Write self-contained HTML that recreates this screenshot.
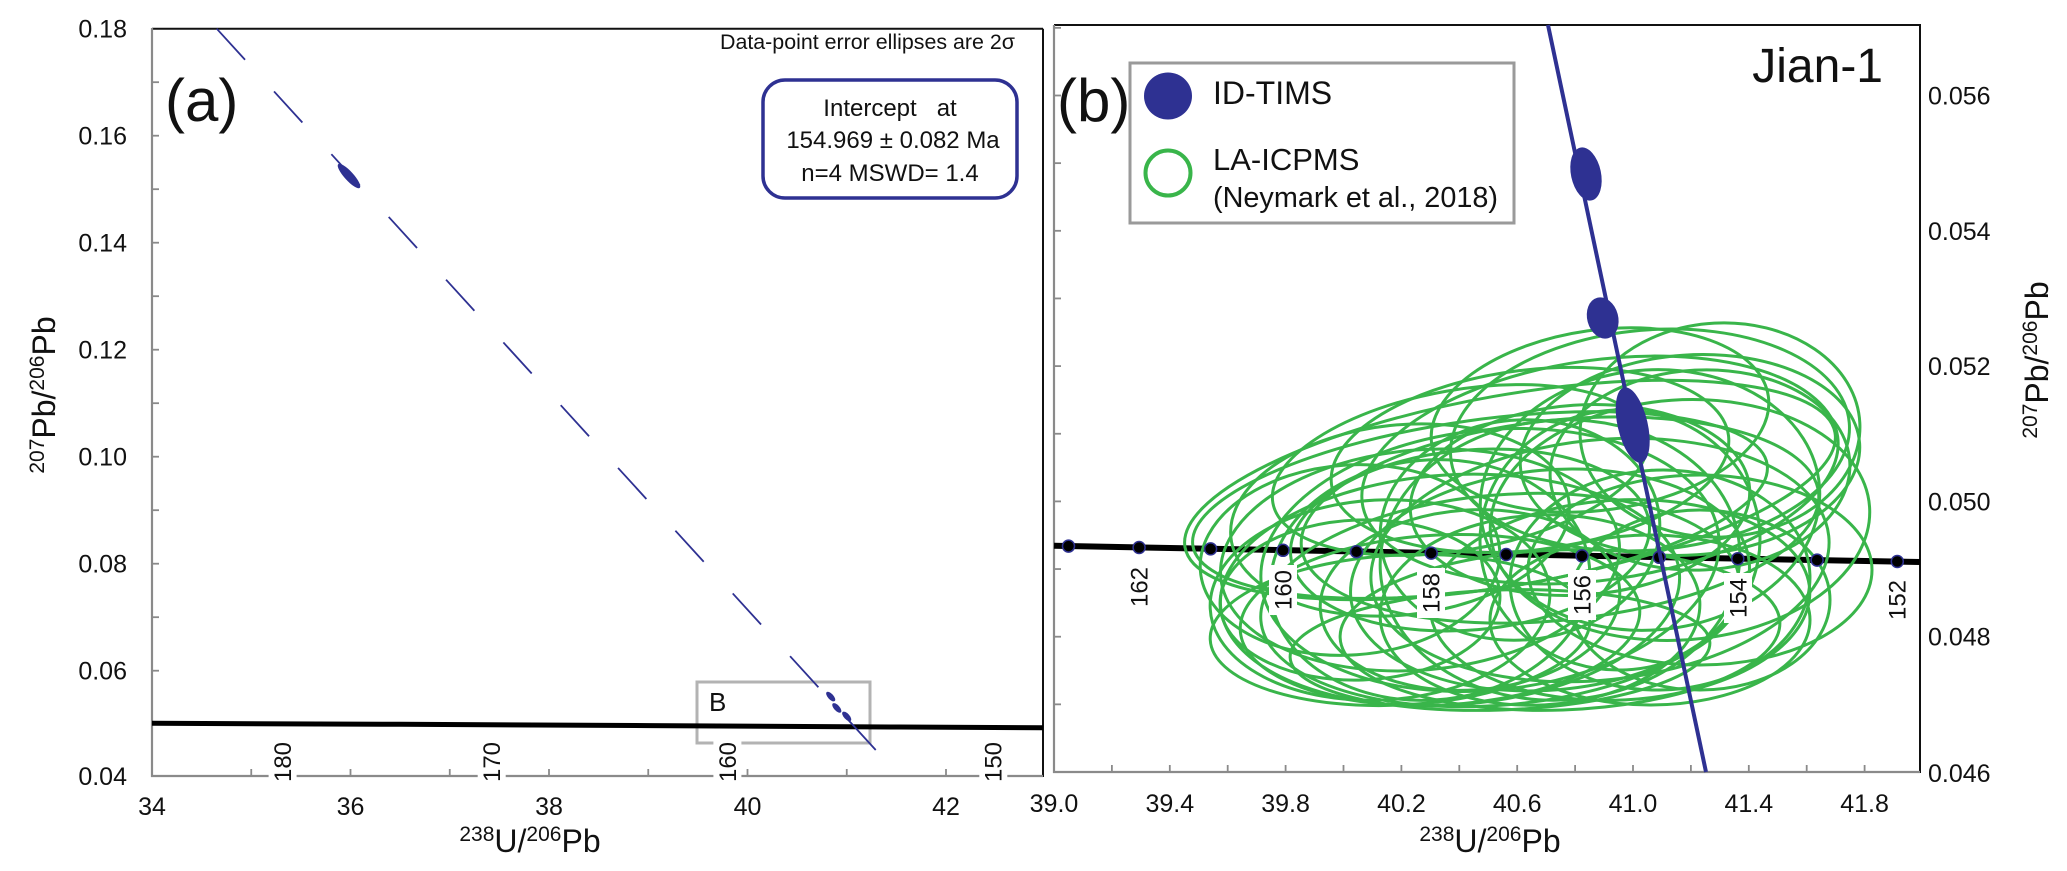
<!DOCTYPE html>
<html><head><meta charset="utf-8"><style>
html,body{margin:0;padding:0;background:#fff;}
svg{display:block;}
text{font-family:"Liberation Sans",Arial,sans-serif;fill:#111;}
</style></head><body>
<svg xmlns="http://www.w3.org/2000/svg" width="2067" height="871" viewBox="0 0 2067 871">
<rect x="0" y="0" width="2067" height="871" fill="#fff"/>

<!-- ================= LEFT PANEL (a) ================= -->
<line x1="152" y1="28.7" x2="1043" y2="28.7" stroke="#111" stroke-width="2"/>
<line x1="1043" y1="28.7" x2="1043" y2="777" stroke="#111" stroke-width="2"/>
<line x1="152" y1="28" x2="152" y2="777" stroke="#8a8a8a" stroke-width="2.2"/>
<line x1="151" y1="776" x2="1043" y2="776" stroke="#8a8a8a" stroke-width="2.2"/>
<g stroke="#8a8a8a" stroke-width="1.8">
<line x1="152" y1="82.2" x2="159" y2="82.2"/><line x1="152" y1="135.7" x2="159" y2="135.7"/>
<line x1="152" y1="189.2" x2="159" y2="189.2"/><line x1="152" y1="242.7" x2="159" y2="242.7"/>
<line x1="152" y1="296.2" x2="159" y2="296.2"/><line x1="152" y1="349.7" x2="159" y2="349.7"/>
<line x1="152" y1="403.2" x2="159" y2="403.2"/><line x1="152" y1="456.7" x2="159" y2="456.7"/>
<line x1="152" y1="510.2" x2="159" y2="510.2"/><line x1="152" y1="563.7" x2="159" y2="563.7"/>
<line x1="152" y1="617.2" x2="159" y2="617.2"/><line x1="152" y1="670.7" x2="159" y2="670.7"/>
<line x1="152" y1="724.2" x2="159" y2="724.2"/>
</g>
<g stroke="#8a8a8a" stroke-width="1.8">
<line x1="251.25" y1="776" x2="251.25" y2="769"/><line x1="350.5" y1="776" x2="350.5" y2="769"/>
<line x1="449.75" y1="776" x2="449.75" y2="769"/><line x1="549" y1="776" x2="549" y2="769"/>
<line x1="648.25" y1="776" x2="648.25" y2="769"/><line x1="747.5" y1="776" x2="747.5" y2="769"/>
<line x1="846.75" y1="776" x2="846.75" y2="769"/><line x1="946" y1="776" x2="946" y2="769"/>
</g>
<g font-size="25" text-anchor="end">
<text x="127" y="37.7">0.18</text><text x="127" y="144.7">0.16</text>
<text x="127" y="251.7">0.14</text><text x="127" y="358.7">0.12</text>
<text x="127" y="465.7">0.10</text><text x="127" y="572.7">0.08</text>
<text x="127" y="679.7">0.06</text><text x="127" y="785">0.04</text>
</g>
<g font-size="25" text-anchor="middle">
<text x="152" y="815">34</text><text x="350.5" y="815">36</text>
<text x="549" y="815">38</text><text x="747.5" y="815">40</text>
<text x="946" y="815">42</text>
</g>
<rect x="697" y="682" width="173" height="61" fill="none" stroke="#b3b3b3" stroke-width="3"/>
<text x="709" y="711" font-size="26">B</text>
<path d="M152,723.3 L400,724.3 L650,725.6 L900,727 L1043,727.7" fill="none" stroke="#000" stroke-width="5"/>
<g fill="#fff">
<rect x="268.6" y="738" width="28" height="50"/><rect x="477.7" y="738" width="28" height="50"/>
<rect x="713.4" y="738" width="28" height="50"/><rect x="979.3" y="738" width="28" height="50"/>
</g>
<g font-size="24" text-anchor="middle">
<text transform="translate(282.6,762) rotate(-90)" dy="0.35em">180</text>
<text transform="translate(491.7,762) rotate(-90)" dy="0.35em">170</text>
<text transform="translate(727.4,762) rotate(-90)" dy="0.35em">160</text>
<text transform="translate(993.3,762) rotate(-90)" dy="0.35em">150</text>
</g>
<line x1="216.7" y1="28.7" x2="880.6" y2="755.3" stroke="#2e3192" stroke-width="1.8" stroke-dasharray="42 43"/>
<g fill="#2e3192">
<ellipse cx="0" cy="0" rx="16" ry="4.5" transform="translate(349,176) rotate(47.6)"/>
<ellipse cx="0" cy="0" rx="6" ry="2.8" transform="translate(830.7,696.6) rotate(47.6)"/>
<ellipse cx="0" cy="0" rx="6" ry="2.8" transform="translate(836.8,707.9) rotate(47.6)"/>
<ellipse cx="0" cy="0" rx="6" ry="2.8" transform="translate(846.7,716.4) rotate(47.6)"/>
</g>
<text x="720" y="49" font-size="21" textLength="295" lengthAdjust="spacingAndGlyphs">Data-point error ellipses are 2σ</text>
<rect x="763" y="80" width="254" height="118" rx="22" ry="22" fill="none" stroke="#2e3192" stroke-width="3.5"/>
<g font-size="24" text-anchor="middle">
<text x="890" y="116" style="white-space:pre">Intercept   at</text>
<text x="893" y="148">154.969 ± 0.082 Ma</text>
<text x="890" y="181">n=4 MSWD= 1.4</text>
</g>
<text x="165" y="121" font-size="60">(a)</text>
<text transform="translate(55,395) rotate(-90)" text-anchor="middle" font-size="32"><tspan font-size="21" dy="-11">207</tspan><tspan dy="11">Pb/</tspan><tspan font-size="21" dy="-11">206</tspan><tspan dy="11">Pb</tspan></text>
<text x="530" y="852" text-anchor="middle" font-size="32"><tspan font-size="21" dy="-11">238</tspan><tspan dy="11">U/</tspan><tspan font-size="21" dy="-11">206</tspan><tspan dy="11">Pb</tspan></text>

<!-- ================= RIGHT PANEL (b) ================= -->
<line x1="1054" y1="25" x2="1920" y2="25" stroke="#111" stroke-width="2"/>
<line x1="1920" y1="24" x2="1920" y2="773" stroke="#111" stroke-width="2"/>
<line x1="1054" y1="25" x2="1054" y2="773" stroke="#8a8a8a" stroke-width="2.2"/>
<line x1="1053" y1="772" x2="1920" y2="772" stroke="#8a8a8a" stroke-width="2.2"/>
<g stroke="#8a8a8a" stroke-width="1.8">
<line x1="1054" y1="704.35" x2="1061" y2="704.35"/><line x1="1054" y1="636.7" x2="1061" y2="636.7"/>
<line x1="1054" y1="569.05" x2="1061" y2="569.05"/><line x1="1054" y1="501.4" x2="1061" y2="501.4"/>
<line x1="1054" y1="433.75" x2="1061" y2="433.75"/><line x1="1054" y1="366.1" x2="1061" y2="366.1"/>
<line x1="1054" y1="298.45" x2="1061" y2="298.45"/><line x1="1054" y1="230.8" x2="1061" y2="230.8"/>
<line x1="1054" y1="163.15" x2="1061" y2="163.15"/><line x1="1054" y1="95.5" x2="1061" y2="95.5"/>
<line x1="1054" y1="27.85" x2="1061" y2="27.85"/>
</g>
<g stroke="#8a8a8a" stroke-width="1.8">
<line x1="1111.9" y1="772" x2="1111.9" y2="765"/><line x1="1169.8" y1="772" x2="1169.8" y2="765"/>
<line x1="1227.7" y1="772" x2="1227.7" y2="765"/><line x1="1285.6" y1="772" x2="1285.6" y2="765"/>
<line x1="1343.5" y1="772" x2="1343.5" y2="765"/><line x1="1401.4" y1="772" x2="1401.4" y2="765"/>
<line x1="1459.3" y1="772" x2="1459.3" y2="765"/><line x1="1517.2" y1="772" x2="1517.2" y2="765"/>
<line x1="1575.1" y1="772" x2="1575.1" y2="765"/><line x1="1633" y1="772" x2="1633" y2="765"/>
<line x1="1690.9" y1="772" x2="1690.9" y2="765"/><line x1="1748.8" y1="772" x2="1748.8" y2="765"/>
<line x1="1806.7" y1="772" x2="1806.7" y2="765"/><line x1="1864.6" y1="772" x2="1864.6" y2="765"/>
</g>
<g font-size="25" text-anchor="middle">
<text x="1054" y="812">39.0</text><text x="1169.8" y="812">39.4</text>
<text x="1285.6" y="812">39.8</text><text x="1401.4" y="812">40.2</text>
<text x="1517.2" y="812">40.6</text><text x="1633" y="812">41.0</text>
<text x="1748.8" y="812">41.4</text><text x="1864.6" y="812">41.8</text>
</g>
<g font-size="25">
<text x="1928" y="104.5">0.056</text><text x="1928" y="239.8">0.054</text>
<text x="1928" y="375.1">0.052</text><text x="1928" y="510.4">0.050</text>
<text x="1928" y="645.7">0.048</text><text x="1928" y="782">0.046</text>
</g>

<line x1="1054" y1="545.8" x2="1920" y2="562" stroke="#000" stroke-width="6"/>

<g fill="none" stroke="#39b54a" stroke-width="3">
<ellipse rx="330" ry="95" transform="translate(1510,490) rotate(-10)"/>
<ellipse rx="290" ry="85" transform="translate(1480,505) rotate(-8)"/>
<ellipse rx="240" ry="110" transform="translate(1600,470) rotate(-8)"/>
<ellipse rx="200" ry="110" transform="translate(1650,440) rotate(-5)"/>
<ellipse rx="140" ry="107" transform="translate(1720,430) rotate(-3)"/>
<ellipse rx="170" ry="100" transform="translate(1690,455) rotate(-4)"/>
<ellipse rx="260" ry="100" transform="translate(1560,520) rotate(-6)"/>
<ellipse rx="200" ry="110" transform="translate(1420,560) rotate(-5)"/>
<ellipse rx="230" ry="115" transform="translate(1450,590) rotate(-4)"/>
<ellipse rx="170" ry="100" transform="translate(1380,600) rotate(-3)"/>
<ellipse rx="240" ry="105" transform="translate(1500,600) rotate(-5)"/>
<ellipse rx="230" ry="120" transform="translate(1600,560) rotate(-6)"/>
<ellipse rx="190" ry="120" transform="translate(1680,520) rotate(-4)"/>
<ellipse rx="172" ry="95" transform="translate(1700,570)"/>
<ellipse rx="200" ry="90" transform="translate(1530,460) rotate(-7)"/>
<ellipse rx="180" ry="90" transform="translate(1470,540) rotate(-5)"/>
<ellipse rx="200" ry="110" transform="translate(1550,580) rotate(-5)"/>
<ellipse rx="190" ry="100" transform="translate(1620,600) rotate(-3)"/>
<ellipse rx="170" ry="95" transform="translate(1400,520) rotate(-6)"/>
<ellipse rx="170" ry="95" transform="translate(1580,500) rotate(-4)"/>
<ellipse rx="170" ry="130" transform="translate(1650,500) rotate(-5)"/>
<ellipse rx="150" ry="95" transform="translate(1350,560) rotate(-4)"/>
<ellipse rx="200" ry="85" transform="translate(1440,620) rotate(-3)"/>
<ellipse rx="220" ry="80" transform="translate(1560,630) rotate(-2)"/>
<ellipse rx="160" ry="85" transform="translate(1650,620)"/>
<ellipse rx="140" ry="110" transform="translate(1520,530) rotate(-5)"/>
<ellipse rx="190" ry="80" transform="translate(1460,470) rotate(-10)"/>
<ellipse rx="150" ry="100" transform="translate(1700,470) rotate(-3)"/>
<ellipse rx="170" ry="90" transform="translate(1600,420) rotate(-8)"/>
<ellipse rx="190" ry="75" transform="translate(1400,630) rotate(-3)"/>
<ellipse rx="210" ry="60" transform="translate(1500,650) rotate(-2)"/>
<ellipse rx="140" ry="130" transform="translate(1620,540) rotate(-3)"/>
<ellipse rx="160" ry="120" transform="translate(1430,580) rotate(-5)"/>
<ellipse rx="180" ry="140" transform="translate(1560,560) rotate(-4)"/>
<ellipse rx="130" ry="90" transform="translate(1700,600)"/>
<ellipse rx="230" ry="130" transform="translate(1490,560) rotate(-6)"/>
<ellipse rx="140" ry="80" transform="translate(1360,600) rotate(-2)"/>
<ellipse rx="160" ry="95" transform="translate(1540,610) rotate(-3)"/>
<ellipse rx="150" ry="110" transform="translate(1660,580) rotate(-2)"/>
<ellipse rx="150" ry="90" transform="translate(1470,600) rotate(-4)"/>
</g>

<g fill="#000" stroke="#2e3192" stroke-width="1.5">
<circle cx="1068.5" cy="546.1" r="6"/><circle cx="1139.1" cy="547.5" r="6"/>
<circle cx="1210.6" cy="548.9" r="6"/><circle cx="1283" cy="550.3" r="6"/>
<circle cx="1356.5" cy="551.7" r="6"/><circle cx="1431.2" cy="553.1" r="6"/>
<circle cx="1506.2" cy="554.5" r="6"/><circle cx="1582" cy="555.9" r="6"/>
<circle cx="1659.3" cy="557.3" r="6"/><circle cx="1737.8" cy="558.7" r="6"/>
<circle cx="1817.1" cy="560.1" r="6"/><circle cx="1897.3" cy="561.5" r="6"/>
</g>
<g fill="#fff">
<rect x="1125" y="562" width="28" height="50"/><rect x="1269" y="565" width="28" height="50"/>
<rect x="1417" y="568" width="28" height="50"/><rect x="1568" y="570" width="28" height="50"/>
<rect x="1724" y="573" width="28" height="50"/><rect x="1883" y="576" width="28" height="50"/>
</g>
<g font-size="24" text-anchor="middle">
<text transform="translate(1139,587) rotate(-90)" dy="0.35em">162</text>
<text transform="translate(1283,590) rotate(-90)" dy="0.35em">160</text>
<text transform="translate(1431,593) rotate(-90)" dy="0.35em">158</text>
<text transform="translate(1582,595) rotate(-90)" dy="0.35em">156</text>
<text transform="translate(1738,598) rotate(-90)" dy="0.35em">154</text>
<text transform="translate(1897,600) rotate(-90)" dy="0.35em">152</text>
</g>

<line x1="1548" y1="25" x2="1706" y2="772" stroke="#2e3192" stroke-width="4"/>
<g fill="#2e3192">
<ellipse rx="15" ry="27" transform="translate(1586,174) rotate(-12)"/>
<ellipse rx="15.5" ry="21" transform="translate(1602.7,318) rotate(-15)"/>
<ellipse rx="15" ry="38.5" transform="translate(1632.7,425) rotate(-13)"/>
</g>

<rect x="1130" y="63" width="384" height="160" fill="#fff" stroke="#9a9a9a" stroke-width="3"/>
<ellipse cx="1168" cy="96" rx="24" ry="23.5" fill="#2e3192"/>
<circle cx="1168" cy="173" r="22.5" fill="none" stroke="#39b54a" stroke-width="4"/>
<text x="1213" y="104" font-size="32">ID-TIMS</text>
<text x="1213" y="170" font-size="31">LA-ICPMS</text>
<text x="1213" y="207" font-size="29" textLength="285" lengthAdjust="spacingAndGlyphs">(Neymark et al., 2018)</text>

<text x="1057" y="121" font-size="60">(b)</text>
<text x="1883" y="82" font-size="48" text-anchor="end">Jian-1</text>

<text x="1490" y="852" text-anchor="middle" font-size="32"><tspan font-size="21" dy="-11">238</tspan><tspan dy="11">U/</tspan><tspan font-size="21" dy="-11">206</tspan><tspan dy="11">Pb</tspan></text>
<text transform="translate(2048,360) rotate(-90)" text-anchor="middle" font-size="32"><tspan font-size="21" dy="-11">207</tspan><tspan dy="11">Pb/</tspan><tspan font-size="21" dy="-11">206</tspan><tspan dy="11">Pb</tspan></text>
</svg>
</body></html>
